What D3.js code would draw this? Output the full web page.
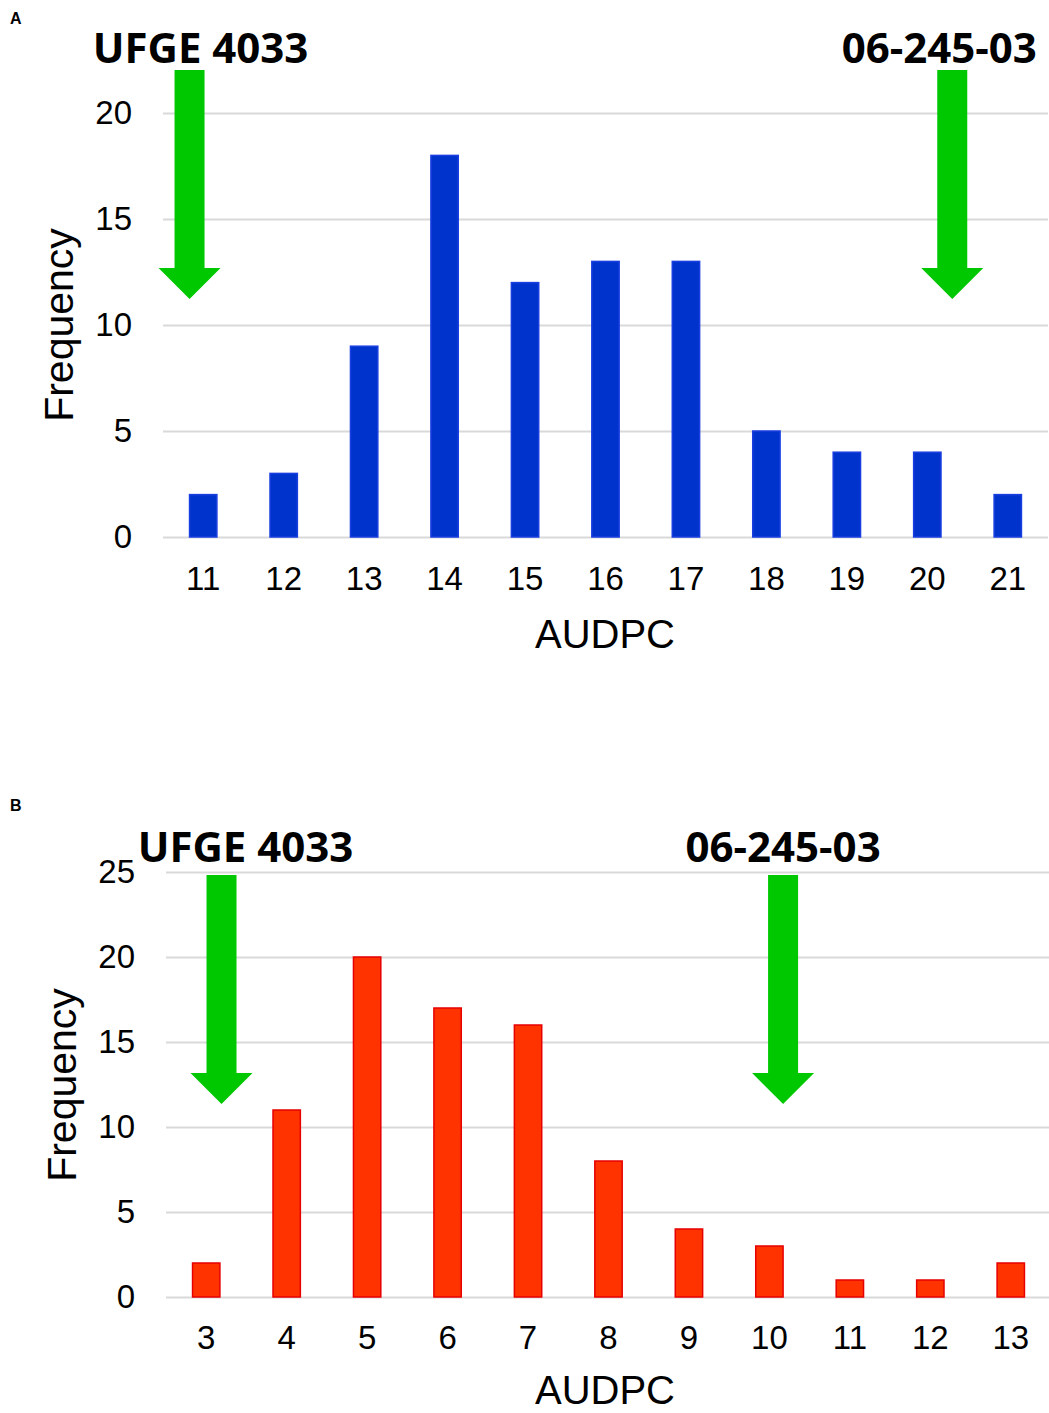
<!DOCTYPE html>
<html>
<head>
<meta charset="utf-8">
<script src="https://cdn.jsdelivr.net/npm/d3@7"></script>
<style>
  body { margin: 0; background: #fff; }
  svg { display: block; }
</style>
</head>
<body>
<div id="chart"></div>
<script>
// panel A
const audpcA = [11, 12, 13, 14, 15, 16, 17, 18, 19, 20, 21];
const freqA = [2, 3, 9, 18, 12, 13, 13, 5, 4, 4, 2];
const yTicksA = [0, 5, 10, 15, 20];
// panel B
const audpcB = [3, 4, 5, 6, 7, 8, 9, 10, 11, 12, 13];
const freqB = [2, 11, 20, 17, 16, 8, 4, 3, 1, 1, 2];
const yTicksB = [0, 5, 10, 15, 20, 25];
// genotype markers (AUDPC position of the arrow)
const markersA = [{ name: 'UFGE 4033', at: 10.83 }, { name: '06-245-03', at: 20.31 }];
const markersB = [{ name: 'UFGE 4033', at: 3.19 }, { name: '06-245-03', at: 10.17 }];

const W = 1049, H = 1413;
const svg = d3.select('#chart').append('svg')
    .attr('width', W)
    .attr('height', H);

const arrowGreen = '#00c800';

function drawPanel(opts) {
    const g = svg.append('g');

    const x = d3.scaleBand()
        .domain(opts.cats)
        .range([opts.left, opts.right])
        .paddingInner(0.66)
        .paddingOuter(0.33);

    const y = d3.scaleLinear()
        .domain([0, opts.yMax])
        .range([opts.bottom, opts.top]);

    // gridlines + y labels
    const yAxis = g.append('g')
        .attr('transform', `translate(${opts.left},0)`)
        .call(d3.axisLeft(y).tickValues(opts.yTicks).tickSize(-(opts.right - opts.left)).tickPadding(31));
    yAxis.select('.domain').remove();
    yAxis.selectAll('.tick line')
        .attr('stroke', '#d9d9d9')
        .attr('stroke-width', 2);
    yAxis.selectAll('.tick text')
        .attr('fill', '#000')
        .style('font-family', '"Liberation Sans", Arial, sans-serif')
        .style('font-size', '33px');

    // bars
    g.selectAll('rect.bar')
        .data(opts.cats.map((c, i) => ({ c, v: opts.vals[i] })))
        .enter()
        .append('rect')
        .attr('class', 'bar')
        .attr('x', d => x(d.c))
        .attr('width', x.bandwidth())
        .attr('y', d => y(d.v))
        .attr('height', d => opts.bottom - y(d.v))
        .attr('fill', opts.fill)
        .attr('stroke', opts.stroke)
        .attr('stroke-width', 1.5);

    // x labels
    const xAxis = g.append('g')
        .attr('transform', `translate(0,${opts.bottom})`)
        .call(d3.axisBottom(x).tickSize(0).tickPadding(opts.xPad));
    xAxis.select('.domain').remove();
    xAxis.selectAll('.tick text')
        .attr('fill', '#000')
        .style('font-family', '"Liberation Sans", Arial, sans-serif')
        .style('font-size', '33px');

    // axis titles
    g.append('text')
        .attr('x', 605)
        .attr('y', opts.xTitleY)
        .attr('text-anchor', 'middle')
        .style('font-family', '"Liberation Sans", Arial, sans-serif')
        .style('font-size', '40px')
        .text('AUDPC');

    g.append('text')
        .attr('transform', `translate(${opts.yTitleX},${opts.yTitleMid}) rotate(-90)`)
        .attr('text-anchor', 'middle')
        .style('font-family', '"Liberation Sans", Arial, sans-serif')
        .style('font-size', '41px')
        .text('Frequency');

    // panel letter
    g.append('text')
        .attr('x', 10)
        .attr('y', opts.letterY)
        .style('font-family', '"Liberation Sans", Arial, sans-serif')
        .style('font-weight', 'bold')
        .style('font-size', '16px')
        .text(opts.letter);

    // arrows pointing at the parents
    const step = x.step();
    const c0 = x(opts.cats[0]) + x.bandwidth() / 2;
    const xPos = v => c0 + (v - opts.cats[0]) * step;

    opts.markers.forEach(m => {
        const cx = xPos(m.at);
        const t = opts.arrowTop, hs = t + 198, tip = t + 229;
        const pts = [
            [cx - 15, t], [cx + 15, t], [cx + 15, hs], [cx + 31, hs],
            [cx, tip], [cx - 31, hs], [cx - 15, hs]
        ];
        g.append('path')
            .attr('d', d3.line()(pts) + 'Z')
            .attr('fill', arrowGreen);

        g.append('text')
            .attr('x', cx + (opts.labelShift[m.name] || 0))
            .attr('y', opts.labelY)
            .attr('text-anchor', 'middle')
            .style('font-family', '"Open Sans", sans-serif')
            .style('font-weight', 'bold')
            .style('font-size', '42px')
            .text(m.name);
    });
}

drawPanel({
    letter: 'A', letterY: 24,
    cats: audpcA, vals: freqA, yTicks: yTicksA, yMax: 20,
    left: 163, right: 1048, top: 113, bottom: 537,
    fill: '#0033cc', stroke: '#1a3fe0',
    xPad: 30, xTitleY: 648, yTitleX: 73, yTitleMid: 325,
    markers: markersA, arrowTop: 70, labelY: 63,
    labelShift: { 'UFGE 4033': 11, '06-245-03': -13 }
});

drawPanel({
    letter: 'B', letterY: 811,
    cats: audpcB, vals: freqB, yTicks: yTicksB, yMax: 25,
    left: 166, right: 1051, top: 872, bottom: 1297,
    fill: '#ff3300', stroke: '#e60000',
    xPad: 29, xTitleY: 1404, yTitleX: 76, yTitleMid: 1085,
    markers: markersB, arrowTop: 875, labelY: 862,
    labelShift: { 'UFGE 4033': 24, '06-245-03': 0 }
});
</script>
</body>
</html>
